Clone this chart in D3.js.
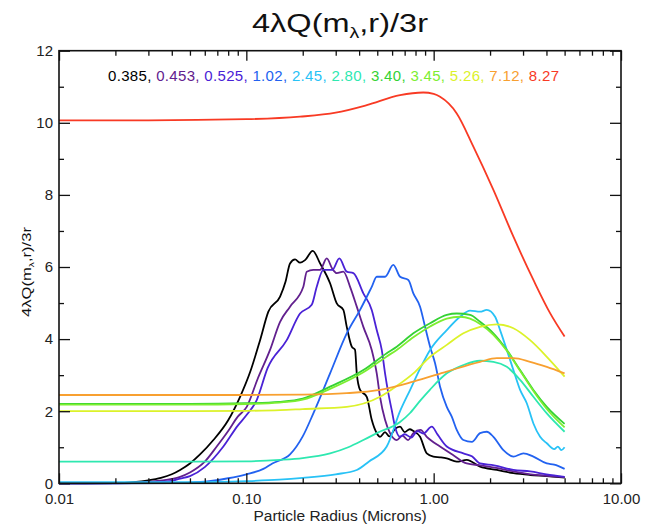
<!DOCTYPE html>
<html>
<head>
<meta charset="utf-8">
<script src="https://cdn.jsdelivr.net/npm/d3@7"></script>
<style>
  html, body { margin: 0; padding: 0; background: #fff; }
  svg { display: block; }
  text { font-family: "Liberation Sans", Arial, Helvetica, sans-serif; }
</style>
</head>
<body>
<svg id="chart" width="647" height="527"></svg>
<script>
// ---------- data (radius in microns, value 4λQ/3r) ----------
const legendLabels = ["0.385", "0.453", "0.525", "1.02", "2.45", "2.80", "3.40", "3.45", "5.26", "7.12", "8.27"];
const seriesColors = ["#000000", "#62208e", "#4a22d6", "#2262f0", "#28c2f6", "#2ee8b0", "#34d234", "#7cee30", "#dcf22a", "#f8a030", "#f83a24"];

const s0385 = [[0.01,0],[0.02,0.005],[0.025,0.03],[0.03,0.08],[0.035,0.15],[0.04,0.25],[0.0443,0.37],[0.05,0.55],[0.0566,0.8],[0.0667,1.2],[0.08,1.75],[0.0926,2.4],[0.105,3.1],[0.1184,3.97],[0.1311,4.76],[0.1514,5.18],[0.162,5.6],[0.1711,6.1],[0.182,6.21],[0.1935,6.12],[0.2058,6.19],[0.2262,6.45],[0.2475,6.1],[0.2799,5.55],[0.3039,4.99],[0.3295,4.81],[0.3436,4.34],[0.3654,3.79],[0.3805,3.7],[0.3886,3.05],[0.4047,2.59],[0.4393,2.4],[0.4671,1.76],[0.4967,1.39],[0.5173,1.29],[0.55,1.42],[0.58,1.3],[0.62,1.5],[0.6615,1.57],[0.70,1.42],[0.745,1.5],[0.779,1.45],[0.8461,1.29],[0.9188,0.83],[0.9963,0.74],[1.08,0.72],[1.175,0.69],[1.328,0.6],[1.502,0.65],[1.769,0.46],[2.173,0.37],[2.665,0.28],[3.272,0.23],[4.0,0.2],[5.0,0.16]];
const s0453 = [[0.01,0],[0.02,0.003],[0.03,0.04],[0.04,0.12],[0.0443,0.18],[0.05,0.3],[0.06,0.6],[0.0695,1.02],[0.08,1.45],[0.09,1.85],[0.1005,2.12],[0.115,2.9],[0.1338,3.7],[0.1514,4.48],[0.1711,4.9],[0.2015,5.45],[0.2101,5.87],[0.2279,5.92],[0.2475,5.92],[0.2688,6.24],[0.2877,5.95],[0.3039,5.83],[0.3295,5.87],[0.3579,5.45],[0.3886,4.9],[0.4214,4.34],[0.4671,3.7],[0.4967,3.05],[0.5173,2.4],[0.5501,1.76],[0.5849,1.39],[0.6353,1.2],[0.68,1.32],[0.73,1.2],[0.779,1.39],[0.85,1.48],[0.9188,1.29],[1.082,1.02],[1.274,0.78],[1.502,0.55],[1.769,0.5],[2.2,0.42],[2.665,0.33],[3.3,0.25],[4.0,0.21],[5.0,0.17]];
const s0525 = [[0.01,0],[0.02,0.002],[0.03,0.02],[0.04,0.07],[0.0443,0.13],[0.05,0.2],[0.06,0.45],[0.0754,1.02],[0.09,1.6],[0.1005,1.9],[0.1136,2.31],[0.13,3.2],[0.1643,3.97],[0.1935,4.71],[0.2234,4.95],[0.2376,5.45],[0.2577,5.92],[0.2877,5.92],[0.3137,6.24],[0.3436,5.87],[0.3727,5.83],[0.4214,5.27],[0.4671,4.81],[0.4967,4.25],[0.5283,3.7],[0.5501,3.05],[0.5728,2.5],[0.5973,2.03],[0.622,1.57],[0.6615,1.29],[0.70,1.36],[0.76,1.27],[0.82,1.45],[0.88,1.38],[0.9768,1.57],[1.05,1.35],[1.175,1.02],[1.441,0.83],[1.6,0.75],[1.769,0.55],[2.1,0.5],[2.665,0.37],[3.272,0.33],[4.0,0.25],[5.0,0.18]];
const s102 = [[0.01,0],[0.04,0.005],[0.05,0.02],[0.0632,0.06],[0.08,0.14],[0.1,0.25],[0.1233,0.4],[0.1377,0.55],[0.1711,0.8],[0.2,1.3],[0.2279,1.94],[0.2799,3.05],[0.3436,4.16],[0.4047,4.81],[0.4671,5.45],[0.4967,5.73],[0.55,5.73],[0.6091,6.06],[0.6615,5.73],[0.7327,5.64],[0.779,5.27],[0.8461,4.9],[0.8999,4.34],[0.9568,3.79],[1.0174,3.33],[1.082,2.68],[1.175,2.12],[1.249,1.85],[1.328,1.48],[1.441,1.2],[1.6,1.15],[1.769,1.39],[1.921,1.43],[2.084,1.29],[2.356,0.92],[2.665,0.74],[3.012,0.83],[3.407,0.74],[4.017,0.55],[4.4,0.52],[5.0,0.4]];
const s245 = [[0.01,0.03],[0.05,0.03],[0.1,0.06],[0.15,0.1],[0.2,0.15],[0.3,0.25],[0.3886,0.37],[0.45,0.6],[0.5617,1.02],[0.6615,2.0],[0.75,2.6],[0.85,3.2],[0.9568,3.7],[1.175,4.25],[1.384,4.62],[1.564,4.79],[1.769,4.76],[1.921,4.81],[2.128,4.62],[2.262,4.25],[2.457,3.7],[2.665,3.14],[2.893,2.59],[3.141,2.22],[3.407,1.66],[3.7,1.29],[4.017,1.11],[4.4,0.95],[4.6,1.02],[4.8,0.92],[5.0,1.0]];
const s280 = [[0.01,0.6],[0.05,0.6],[0.1,0.61],[0.1514,0.65],[0.2,0.7],[0.2799,0.83],[0.35,1.0],[0.4214,1.2],[0.5,1.4],[0.6615,1.7],[0.7482,1.95],[0.85,2.3],[0.9568,2.6],[1.175,3.05],[1.441,3.28],[1.769,3.4],[2.084,3.37],[2.457,3.23],[2.893,2.87],[3.407,2.4],[4.017,1.94],[5.0,1.43]];
const s340 = [[0.01,2.2],[0.05,2.2],[0.1,2.22],[0.15,2.26],[0.2,2.35],[0.2799,2.68],[0.4214,3.14],[0.5617,3.61],[0.6353,3.79],[0.779,4.16],[0.9568,4.44],[1.175,4.67],[1.328,4.71],[1.564,4.67],[1.769,4.48],[2.084,4.16],[2.457,3.7],[2.893,3.14],[3.407,2.59],[4.017,2.12],[5.0,1.65]];
const s345 = [[0.01,2.18],[0.05,2.18],[0.1,2.2],[0.15,2.24],[0.2,2.32],[0.2799,2.62],[0.4214,3.08],[0.5617,3.52],[0.6353,3.7],[0.779,4.05],[0.9568,4.35],[1.175,4.57],[1.384,4.62],[1.564,4.57],[1.769,4.42],[2.084,4.12],[2.457,3.68],[2.893,3.12],[3.407,2.56],[4.017,2.06],[5.0,1.55]];
const s526 = [[0.01,2.0],[0.05,2.0],[0.1,2.01],[0.1514,2.03],[0.2,2.06],[0.3436,2.12],[0.5173,2.4],[0.6353,2.7],[0.779,3.05],[0.9568,3.51],[1.175,3.84],[1.441,4.16],[1.769,4.34],[2.173,4.41],[2.665,4.3],[3.272,3.97],[4.017,3.51],[5.0,2.96]];
const s712 = [[0.01,2.45],[0.1,2.45],[0.2,2.46],[0.3436,2.5],[0.5173,2.59],[0.779,2.82],[1.175,3.1],[1.769,3.37],[2.173,3.47],[2.665,3.47],[3.272,3.37],[4.017,3.23],[5.0,3.05]];
const s827 = [[0.01,10.07],[0.03,10.07],[0.1,10.1],[0.1935,10.17],[0.3,10.28],[0.4393,10.49],[0.6615,10.77],[0.88,10.84],[1.0,10.8],[1.082,10.72],[1.328,10.26],[1.629,9.34],[2.084,8.14],[2.665,6.84],[3.407,5.64],[4.183,4.72],[5.0,4.07]];

const seriesData = [s0385, s0453, s0525, s102, s245, s280, s340, s345, s526, s712, s827];

const xMajor = [0.01, 0.1, 1, 10];
const xTickLabels = ["0.01", "0.10", "1.00", "10.00"];
const yMajor = [0, 2, 4, 6, 8, 10, 12];
const yMinor = [1, 3, 5, 7, 9, 11];

// ---------- layout ----------
const L = 59, R = 621, T = 50.7, B = 483.3;
const svg = d3.select("#chart");
const x = d3.scaleLog().domain([0.01, 10]).range([L, R]);
const y = d3.scaleLinear().domain([0, 12]).range([B, T]);

const xMinor = [];
for (let dec = 0.01; dec < 10; dec *= 10) {
  for (let k = 2; k <= 9; k++) xMinor.push(+(dec * k).toPrecision(3));
}

// curves
const line = d3.line().x(d => x(d[0])).y(d => y(d[1])).curve(d3.curveMonotoneX);
svg.append("g").selectAll("path").data(seriesData).join("path")
  .attr("d", d => line(d))
  .attr("fill", "none")
  .attr("stroke", (d, i) => seriesColors[i])
  .attr("stroke-width", 1.8)
  .attr("stroke-linejoin", "round");

// axes
function styleAxis(g) {
  g.select(".domain").remove();
  g.selectAll(".tick line").attr("stroke", "#111").attr("stroke-width", 1.3);
  g.selectAll(".tick text").attr("fill", "#222").style("font-size", "15px")
    .style("font-family", '"Liberation Sans", Arial, Helvetica, sans-serif');
}
// bottom
svg.append("g").attr("transform", `translate(0,${B})`)
  .call(d3.axisBottom(x).tickValues(xMajor).tickFormat((d, i) => xTickLabels[i]).tickSizeInner(-10).tickSizeOuter(0).tickPadding(10.5))
  .call(styleAxis);
svg.append("g").attr("transform", `translate(0,${B})`)
  .call(d3.axisBottom(x).tickValues(xMinor).tickFormat("").tickSizeInner(-5).tickSizeOuter(0))
  .call(styleAxis);
// top
svg.append("g").attr("transform", `translate(0,${T})`)
  .call(d3.axisTop(x).tickValues(xMajor).tickFormat("").tickSizeInner(-10).tickSizeOuter(0))
  .call(styleAxis);
svg.append("g").attr("transform", `translate(0,${T})`)
  .call(d3.axisTop(x).tickValues(xMinor).tickFormat("").tickSizeInner(-5).tickSizeOuter(0))
  .call(styleAxis);
// left
svg.append("g").attr("transform", `translate(${L},0)`)
  .call(d3.axisLeft(y).tickValues(yMajor).tickFormat(d3.format("d")).tickSizeInner(-11).tickSizeOuter(0).tickPadding(6))
  .call(styleAxis);
svg.append("g").attr("transform", `translate(${L},0)`)
  .call(d3.axisLeft(y).tickValues(yMinor).tickFormat("").tickSizeInner(-5).tickSizeOuter(0))
  .call(styleAxis);
// right
svg.append("g").attr("transform", `translate(${R},0)`)
  .call(d3.axisRight(y).tickValues(yMajor).tickFormat("").tickSizeInner(-11).tickSizeOuter(0))
  .call(styleAxis);
svg.append("g").attr("transform", `translate(${R},0)`)
  .call(d3.axisRight(y).tickValues(yMinor).tickFormat("").tickSizeInner(-5).tickSizeOuter(0))
  .call(styleAxis);

// frame
svg.append("rect").attr("x", L).attr("y", T).attr("width", R - L).attr("height", B - T)
  .attr("fill", "none").attr("stroke", "#111").attr("stroke-width", 1.6);

// title
const title = svg.append("text").attr("x", (L + R) / 2).attr("y", 31.7)
  .attr("text-anchor", "middle").style("font-size", "25px").attr("fill", "#111")
  .attr("textLength", 176).attr("lengthAdjust", "spacingAndGlyphs");
title.append("tspan").text("4λQ(m");
title.append("tspan").attr("dy", 6).style("font-size", "15px").text("λ");
title.append("tspan").attr("dy", -6).text(",r)/3r");

// y title
const yt = svg.append("text").attr("transform", "translate(31,272) rotate(-90)")
  .attr("text-anchor", "middle").style("font-size", "13px").attr("fill", "#111")
  .attr("textLength", 90).attr("lengthAdjust", "spacingAndGlyphs");
yt.append("tspan").text("4λQ(m");
yt.append("tspan").attr("dy", 3).style("font-size", "8px").text("λ");
yt.append("tspan").attr("dy", -3).text(",r)/3r");

// x title
svg.append("text").attr("x", (L + R) / 2).attr("y", 521)
  .attr("text-anchor", "middle").style("font-size", "15.5px").attr("fill", "#222")
  .text("Particle Radius (Microns)");

// legend
const leg = svg.append("text").attr("x", 108).attr("y", 81)
  .style("font-size", "15px")
  .attr("textLength", 451).attr("lengthAdjust", "spacing");
legendLabels.forEach((lab, i) => {
  leg.append("tspan").attr("fill", seriesColors[i])
    .text(lab + (i < legendLabels.length - 1 ? ", " : ""));
});
</script>
</body>
</html>
